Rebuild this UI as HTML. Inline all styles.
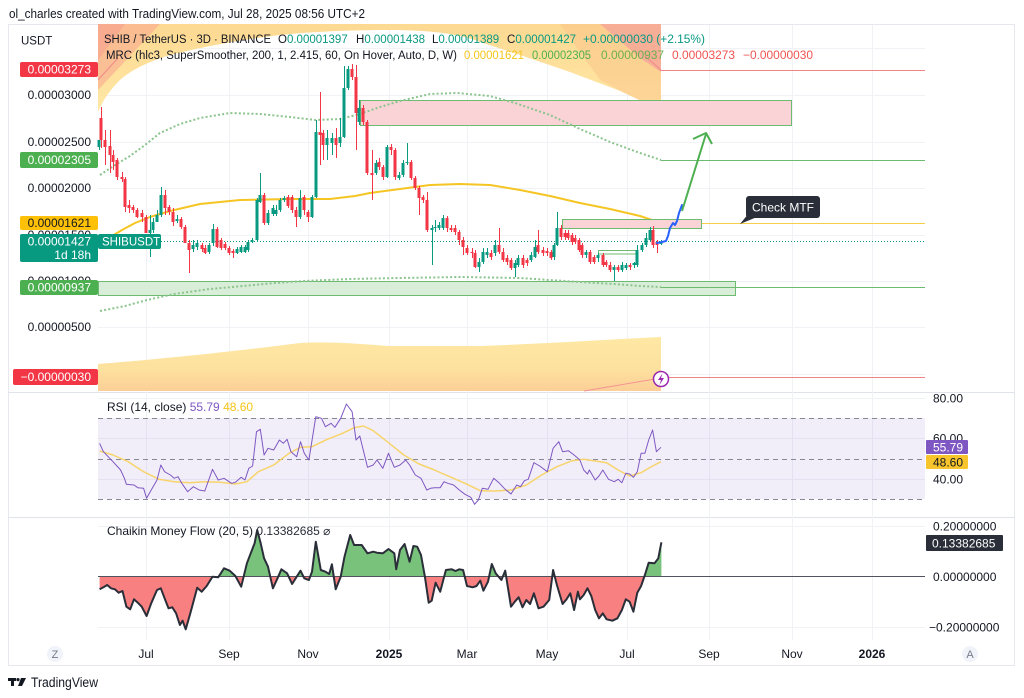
<!DOCTYPE html>
<html><head><meta charset="utf-8"><style>html,body{margin:0;padding:0;background:#fff}svg{display:block}</style></head>
<body>
<svg width="1024" height="698" viewBox="0 0 1024 698" xmlns="http://www.w3.org/2000/svg" font-family="'Liberation Sans', Arial, sans-serif">
<defs>
<linearGradient id="topg" x1="0" y1="24" x2="0" y2="112" gradientUnits="userSpaceOnUse"><stop offset="0" stop-color="#fdd992"/><stop offset="1" stop-color="#fee8a6"/></linearGradient>
<linearGradient id="botg" x1="0" y1="337" x2="0" y2="391" gradientUnits="userSpaceOnUse"><stop offset="0" stop-color="#fee8a4"/><stop offset="0.6" stop-color="#fde19e"/><stop offset="1" stop-color="#fccf98"/></linearGradient>
<clipPath id="band"><path d="M98 24 L98 112 C103 100 110 90 120 80 C130 71 145 63 167 56 C200 47 240 40 280 35 C320 31 360 30 390 30 C410 30 430 31 450 34 C465 37 470 38 480 42 L520 55 L570 72 L620 91 L661 110 L661 24 Z"/></clipPath>
<clipPath id="above"><rect x="90" y="500" width="600" height="76"/></clipPath>
<clipPath id="below"><rect x="90" y="576" width="600" height="80"/></clipPath>
</defs>

<!-- header -->
<text x="9" y="18" font-size="12.5" fill="#131722" textLength="356" lengthAdjust="spacingAndGlyphs">ol_charles created with TradingView.com, Jul 28, 2025 08:56 UTC+2</text>

<!-- frame -->
<rect x="8.5" y="24.5" width="1006" height="641" fill="none" stroke="#e6e8ee"/>
<line x1="8" y1="392.5" x2="1015" y2="392.5" stroke="#e0e3eb"/>
<line x1="8" y1="517.5" x2="1015" y2="517.5" stroke="#e0e3eb"/>

<!-- grid -->
<g stroke="#f0f2f5" stroke-width="1">
<line x1="146.5" y1="25" x2="146.5" y2="640"/><line x1="229.5" y1="25" x2="229.5" y2="640"/><line x1="308.5" y1="25" x2="308.5" y2="640"/><line x1="389.5" y1="25" x2="389.5" y2="640"/><line x1="467.5" y1="25" x2="467.5" y2="640"/><line x1="547.5" y1="25" x2="547.5" y2="640"/><line x1="627.5" y1="25" x2="627.5" y2="640"/><line x1="709.5" y1="25" x2="709.5" y2="640"/><line x1="792.5" y1="25" x2="792.5" y2="640"/><line x1="872.5" y1="25" x2="872.5" y2="640"/>
<line x1="98" y1="48.5" x2="925" y2="48.5"/><line x1="98" y1="95.5" x2="925" y2="95.5"/><line x1="98" y1="142.5" x2="925" y2="142.5"/><line x1="98" y1="188.5" x2="925" y2="188.5"/><line x1="98" y1="235.5" x2="925" y2="235.5"/><line x1="98" y1="281.5" x2="925" y2="281.5"/><line x1="98" y1="327.5" x2="925" y2="327.5"/><line x1="98" y1="374.5" x2="925" y2="374.5"/>
<line x1="98" y1="398.5" x2="925" y2="398.5"/><line x1="98" y1="438.5" x2="925" y2="438.5"/><line x1="98" y1="479.5" x2="925" y2="479.5"/>
<line x1="98" y1="526.5" x2="925" y2="526.5"/><line x1="98" y1="627.5" x2="925" y2="627.5"/>
</g>

<!-- top MRC band -->
<g clip-path="url(#band)">
<rect x="98" y="24" width="563" height="90" fill="url(#topg)"/>
<polygon points="98,24 160,24 98,90" fill="#f7a48e" opacity="0.55"/>
<polygon points="98,24 125,24 98,60" fill="#f59a8e" opacity="0.5"/>
<polygon points="560,24 661,24 661,112 600,80" fill="#fbc48a" opacity="0.5"/>
<polygon points="600,24 661,24 661,72 640,58" fill="#f5a09a" opacity="0.7"/>
</g>
<line x1="98" y1="80" x2="118" y2="58" stroke="#f08a8a" stroke-width="1"/>
<line x1="645" y1="56" x2="661" y2="70" stroke="#f08a8a" stroke-width="1"/>

<!-- bottom MRC band -->
<path d="M98 364 C150 360 230 352 300 343 C330 341 360 344 390 346 L480 346 C540 344 600 340 661 337 L661 391 L98 391 Z" fill="url(#botg)"/>
<line x1="584" y1="391" x2="661" y2="378" stroke="#f29494" stroke-width="1"/>

<!-- zones -->
<rect x="360.5" y="100.5" width="431" height="25" fill="#f9d3d6" stroke="#6dbb70" stroke-width="1"/>
<rect x="98.5" y="281.5" width="637" height="14" fill="#d9eed9" stroke="#6dbb70" stroke-width="1"/>

<!-- right extension lines -->
<line x1="661" y1="70.5" x2="925" y2="70.5" stroke="#f08585" stroke-width="1"/>
<line x1="661" y1="160.5" x2="925" y2="160.5" stroke="#6dbb70" stroke-width="1"/>
<line x1="661" y1="223.5" x2="925" y2="223.5" stroke="#f5cf4a" stroke-width="1"/>
<line x1="661" y1="287.5" x2="925" y2="287.5" stroke="#6dbb70" stroke-width="1"/>
<line x1="661" y1="377.5" x2="925" y2="377.5" stroke="#f08585" stroke-width="1"/>

<!-- dotted MRC bands -->
<polyline fill="none" stroke="#8bc48d" stroke-width="2" stroke-dasharray="2 2.2" points="100,175 115,165 130,156 145,145 160,133 180,124 200,118 230,113 260,114 290,117 315,120 340,119 360,114 380,107 400,101 430,94 457,93 490,96 515,103 550,115 580,129 610,142 640,153 661,160"/>
<polyline fill="none" stroke="#8bc48d" stroke-width="2" stroke-dasharray="2 2.2" points="100,311 125,306 147,300 174,294 210,289 243,286 275,283 304,281 350,279 400,278 460,277 520,278 549,280 580,282 614,284 640,286 661,287"/>

<!-- mean line -->
<polyline fill="none" stroke="#f5c524" stroke-width="2" stroke-linejoin="round" points="112,236 122,230 135,223 150,217 170,211 200,204 240,200 290,199 330,199 355,196 370,193 400,189 430,185 460,184 490,185 520,190 550,196 580,203 610,209 640,216 661,223"/>

<!-- small zone -->
<rect x="562.5" y="219.5" width="139" height="9" fill="#f9d3d6" stroke="#6dbb70" stroke-width="1"/>
<rect x="598.5" y="250.5" width="39" height="3.5" fill="none" stroke="#6dbb70" stroke-width="1"/>

<!-- price line -->
<line x1="98" y1="241.5" x2="925" y2="241.5" stroke="#089981" stroke-width="1" stroke-dasharray="1 2"/>

<!-- candles -->
<g transform="translate(0.5,0)">
<path fill="none" stroke="#f23645" stroke-width="1" d="M101 107V148 M105 130V165 M110 130V173 M113 150V170 M117 158V180 M122 172V182 M125 177V212 M129 200V213 M133 205V213 M137 208V218 M142 210V222 M146 215V233 M165 190V215 M169 205V215 M173 208V226 M181 217V229 M185 225V243 M189 240V273 M202 243V252 M205 245V254 M217 227V248 M221 238V250 M225 242V250 M229 246V255 M233 249V258 M264 193V225 M288 195V208 M292 195V213 M296 207V227 M304 195V215 M308 210V222 M320 92V165 M323 130V160 M336 128V158 M352 64V80 M356 65V150 M363 105V125 M367 120V175 M372 150V200 M379 158V170 M383 165V180 M391 144V155 M395 148V180 M411 160V180 M415 176V190 M419 186V215 M423 195V203 M427 192V232 M447 216V232 M451 225V232 M455 225V235 M459 230V245 M463 237V255 M467 245V255 M472 248V258 M475 250V268 M491 250V260 M499 228V254 M503 248V262 M507 255V265 M511 258V270 M523 255V268 M527 258V266 M538 230V254 M543 247V256 M547 248V256 M551 250V260 M561 225V240 M565 230V240 M568 230V240 M572 233V245 M575 235V244 M579 238V252 M582 243V258 M590 250V264 M594 255V264 M603 253V267 M606 260V267 M610 262V272 M618 265V272 M630 263V270 M653 226V248 M657 240V253"/>
<path fill="none" stroke="#089981" stroke-width="1" d="M99 140V150 M150 215V257 M153 218V233 M157 210V222 M161 187V217 M177 215V223 M193 240V252 M197 240V250 M209 243V254 M213 224V246 M237 247V254 M241 245V253 M245 245V253 M248 240V252 M252 238V243 M257 198V241 M260 173V203 M268 210V225 M273 205V216 M276 205V216 M280 198V212 M284 196V202 M300 190V219 M312 195V218 M316 120V198 M327 130V160 M332 133V155 M340 118V147 M344 66V138 M348 66V90 M359 100V125 M376 160V175 M387 145V178 M399 172V180 M403 160V177 M407 143V165 M432 225V265 M435 220V232 M439 222V230 M443 215V230 M479 258V272 M483 248V264 M487 248V258 M495 240V256 M515 260V277 M518 255V267 M531 252V262 M535 240V258 M554 243V260 M557 212V246 M586 250V258 M598 253V262 M614 265V281 M622 262V272 M626 263V270 M634 262V268 M637 245V267 M642 243V252 M646 233V247 M650 227V242 M661 240V245"/>
</g>
<path fill="#f23645" d="M99.5 118h3v22h-3z M103.5 140h3v7h-3z M108.5 146h3v9h-3z M111.5 155h3v7h-3z M115.5 160h3v17h-3z M120.5 177h3v2h-3z M123.5 179h3v28h-3z M127.5 205h3v3h-3z M131.5 207h3v3h-3z M135.5 210h3v7h-3z M140.5 213h3v4h-3z M144.5 217h3v16h-3z M163.5 195h3v13h-3z M167.5 207h3v5h-3z M171.5 212h3v10h-3z M179.5 219h3v8h-3z M183.5 227h3v16h-3z M187.5 243h3v7h-3z M200.5 245h3v4h-3z M203.5 248h3v5h-3z M215.5 229h3v18h-3z M219.5 240h3v8h-3z M223.5 244h3v4h-3z M227.5 248h3v5h-3z M231.5 251h3v2h-3z M262.5 195h3v28h-3z M286.5 197h3v9h-3z M290.5 197h3v13h-3z M294.5 210h3v7h-3z M302.5 197h3v13h-3z M306.5 212h3v5h-3z M318.5 132h3v3h-3z M321.5 133h3v12h-3z M334.5 138h3v7h-3z M350.5 69h3v8h-3z M354.5 77h3v36h-3z M361.5 108h3v14h-3z M365.5 122h3v51h-3z M370.5 173h3v2h-3z M377.5 162h3v5h-3z M381.5 167h3v10h-3z M389.5 147h3v3h-3z M393.5 150h3v27h-3z M409.5 162h3v16h-3z M413.5 178h3v10h-3z M417.5 188h3v10h-3z M421.5 197h3v3h-3z M425.5 200h3v30h-3z M445.5 218h3v10h-3z M449.5 228h3v2h-3z M453.5 228h3v4h-3z M457.5 232h3v8h-3z M461.5 240h3v7h-3z M465.5 248h3v5h-3z M470.5 252h3v1h-3z M473.5 253h3v14h-3z M489.5 253h3v4h-3z M497.5 245h3v7h-3z M501.5 252h3v8h-3z M505.5 258h3v4h-3z M509.5 260h3v8h-3z M521.5 258h3v7h-3z M525.5 260h3v3h-3z M536.5 245h3v7h-3z M541.5 250h3v3h-3z M545.5 251h3v2h-3z M549.5 252h3v6h-3z M559.5 228h3v9h-3z M563.5 233h3v4h-3z M566.5 233h3v5h-3z M570.5 235h3v7h-3z M573.5 238h3v4h-3z M577.5 240h3v10h-3z M580.5 245h3v10h-3z M588.5 252h3v10h-3z M592.5 257h3v5h-3z M601.5 255h3v10h-3z M604.5 262h3v3h-3z M608.5 265h3v5h-3z M616.5 267h3v3h-3z M628.5 265h3v2h-3z M651.5 230h3v15h-3z M655.5 242h3v3h-3z"/>
<path fill="#089981" d="M97.5 140h3v7h-3z M148.5 230h3v3h-3z M151.5 222h3v8h-3z M155.5 215h3v7h-3z M159.5 195h3v20h-3z M175.5 219h3v2h-3z M191.5 245h3v4h-3z M195.5 243h3v4h-3z M207.5 245h3v7h-3z M211.5 229h3v14h-3z M235.5 249h3v4h-3z M239.5 247h3v5h-3z M243.5 247h3v5h-3z M246.5 242h3v8h-3z M250.5 240h3v2h-3z M255.5 200h3v40h-3z M258.5 195h3v7h-3z M266.5 213h3v10h-3z M271.5 208h3v6h-3z M274.5 210h3v4h-3z M278.5 200h3v10h-3z M282.5 198h3v2h-3z M298.5 198h3v19h-3z M310.5 197h3v20h-3z M314.5 132h3v65h-3z M325.5 138h3v7h-3z M330.5 138h3v5h-3z M338.5 137h3v6h-3z M342.5 88h3v49h-3z M346.5 69h3v19h-3z M357.5 108h3v14h-3z M374.5 163h3v10h-3z M385.5 147h3v30h-3z M397.5 175h3v3h-3z M401.5 163h3v12h-3z M405.5 162h3v1h-3z M430.5 228h3v2h-3z M433.5 227h3v1h-3z M437.5 225h3v3h-3z M441.5 218h3v10h-3z M477.5 262h3v5h-3z M481.5 252h3v10h-3z M485.5 252h3v3h-3z M493.5 245h3v8h-3z M513.5 263h3v5h-3z M516.5 258h3v7h-3z M529.5 255h3v5h-3z M533.5 247h3v10h-3z M552.5 245h3v12h-3z M555.5 228h3v17h-3z M584.5 252h3v3h-3z M596.5 255h3v3h-3z M612.5 267h3v3h-3z M620.5 265h3v5h-3z M624.5 265h3v3h-3z M632.5 263h3v2h-3z M635.5 250h3v15h-3z M640.5 245h3v5h-3z M644.5 238h3v7h-3z M648.5 230h3v10h-3z M659.5 242h3v2h-3z"/>

<!-- projection -->
<polyline fill="none" stroke="#2962ff" stroke-width="2" stroke-linejoin="round" stroke-linecap="round" points="657,243 662,242 666,241 668,236 670,228 673,223 675,225 677,221 679,213 682,205"/>
<line x1="682" y1="211" x2="706" y2="134" stroke="#4caf50" stroke-width="2"/>
<polyline fill="none" stroke="#4caf50" stroke-width="2" stroke-linejoin="round" points="693,139 706,133 712,144"/>

<!-- Check MTF -->
<polygon points="749,213 740,224 757,217" fill="#2a2e39"/>
<rect x="746" y="196" width="74" height="22" rx="3" fill="#2a2e39"/>
<text x="783" y="211.5" font-size="12" fill="#ffffff" text-anchor="middle">Check MTF</text>

<!-- lightning icon -->
<circle cx="661" cy="379" r="7.5" fill="#ffffff" stroke="#9c27b0" stroke-width="1.5"/>
<path d="M662.5 373.5 L658 380 L661 380 L659.5 385 L664 378 L661 378 Z" fill="#9c27b0"/>

<!-- legend -->
<g font-size="11.5">
<text x="104" y="43" fill="#131722" textLength="167" lengthAdjust="spacingAndGlyphs">SHIB / TetherUS · 3D · BINANCE</text>
<text x="278" y="43" fill="#131722">O<tspan fill="#089981">0.00001397</tspan></text>
<text x="356" y="43" fill="#131722">H<tspan fill="#089981">0.00001438</tspan></text>
<text x="432" y="43" fill="#131722">L<tspan fill="#089981">0.00001389</tspan></text>
<text x="507" y="43" fill="#131722">C<tspan fill="#089981">0.00001427</tspan></text>
<text x="583" y="43" fill="#089981" textLength="122" lengthAdjust="spacingAndGlyphs">+0.00000030 (+2.15%)</text>
<text x="106" y="59" fill="#131722" textLength="351" lengthAdjust="spacingAndGlyphs">MRC (hlc3, SuperSmoother, 200, 1, 2.415, 60, On Hover, Auto, D, W)</text>
<text x="464" y="59" fill="#f5c518" textLength="60" lengthAdjust="spacingAndGlyphs">0.00001621</text>
<text x="532" y="59" fill="#4caf50" textLength="59" lengthAdjust="spacingAndGlyphs">0.00002305</text>
<text x="601" y="59" fill="#6ab04c" textLength="63" lengthAdjust="spacingAndGlyphs">0.00000937</text>
<text x="672" y="59" fill="#ef5350" textLength="63" lengthAdjust="spacingAndGlyphs">0.00003273</text>
<text x="743" y="59" fill="#ef5350" textLength="70" lengthAdjust="spacingAndGlyphs">−0.00000030</text>
</g>

<!-- left axis -->
<text x="21" y="44.5" font-size="11.5" fill="#131722">USDT</text>
<g font-size="12" fill="#131722" text-anchor="end">
<text x="91" y="99">0.00003000</text>
<text x="91" y="146">0.00002500</text>
<text x="91" y="192">0.00002000</text>
<text x="91" y="239">0.00001500</text>
<text x="91" y="285">0.00001000</text>
<text x="91" y="331">0.00000500</text>
</g>
<!-- badges -->
<rect x="20" y="62" width="78" height="15" rx="2" fill="#f23645"/>
<text x="91" y="73.5" font-size="12" fill="#fff" text-anchor="end">0.00003273</text>
<rect x="20" y="152" width="78" height="16" rx="2" fill="#4caf50"/>
<text x="91" y="164" font-size="12" fill="#fff" text-anchor="end">0.00002305</text>
<rect x="20" y="216" width="78" height="14" rx="2" fill="#ffc107"/>
<text x="91" y="227" font-size="12" fill="#131722" text-anchor="end">0.00001621</text>
<rect x="20" y="234" width="78" height="28" rx="2" fill="#089981"/>
<text x="91" y="245.5" font-size="12" fill="#fff" text-anchor="end">0.00001427</text>
<text x="91" y="259" font-size="12" fill="#fff" text-anchor="end">1d 18h</text>
<rect x="98" y="234" width="63" height="15" rx="2" fill="#089981"/>
<text x="102" y="245.5" font-size="11.5" fill="#fff">SHIBUSDT</text>
<rect x="20" y="280" width="78" height="15" rx="2" fill="#4caf50"/>
<text x="91" y="291.5" font-size="12" fill="#fff" text-anchor="end">0.00000937</text>
<rect x="13" y="369" width="85" height="16" rx="2" fill="#f23645"/>
<text x="91" y="381" font-size="12" fill="#fff" text-anchor="end">−0.00000030</text>

<!-- RSI pane -->
<rect x="98" y="418" width="827" height="81" fill="#7e57c2" fill-opacity="0.1"/>
<g stroke="#868993" stroke-width="1" stroke-dasharray="5 4">
<line x1="98" y1="418.5" x2="925" y2="418.5"/><line x1="98" y1="459.5" x2="925" y2="459.5"/><line x1="98" y1="499.5" x2="925" y2="499.5"/>
</g>
<polyline fill="none" stroke="#f7d46b" stroke-width="1.5" stroke-linejoin="round" points="99.6,451 113,455 128.3,461.7 143.6,471.7 158.9,479.3 174.2,481.7 189.5,482.7 204.8,481.7 220.1,482.3 235.4,484 246.9,481.7 258.4,471.7 273.7,465 289,453.3 300.5,447.3 312,446.7 327.3,439.3 342.6,433.3 354.1,427.7 363.6,426 373.2,430.7 388.5,442.7 403.8,455 419.1,464 434.4,470 449.7,476.7 465,483.3 480.3,490.7 495.7,491 511,490 526.3,485 541.6,475 556.9,466.7 572.2,460.7 583.7,459.3 595.2,461 606.6,462.7 618.1,470 629.6,476 641.1,472.7 652.6,466 661,461.7"/>
<polyline fill="none" stroke="#7e57c2" stroke-width="1" stroke-linejoin="round" points="99.6,443.3 103.4,451.7 113,461.7 120.6,470 124.4,478.3 126.4,484.3 134,485 137.8,487.7 143.6,488.3 146.6,498.3 151.2,490 157,480 160.8,465 164.6,471.7 170.4,475 174.2,478.3 178,476.7 181.8,483.3 187.6,491.7 193.3,486.7 199.1,490 204.8,491 212.5,469.3 218.2,480 224,478.3 231.6,483.3 235.4,482.3 241.2,477.3 245,480 248.8,468.3 252.6,466 256.5,431.7 260.3,429.3 264.1,455 268,448.3 273.7,450 279.4,440 283.3,443.3 287.1,439.3 290.9,451.7 296.7,456.7 300.5,441.7 304.3,453.3 308.9,460 315.8,416.7 321.5,418.3 325.4,426.7 331.1,423.3 334.9,427.3 340.7,418.3 346.4,404 352.1,411.7 356,440 359.8,436 367.5,467.3 373.2,465 377,460 382.8,468.3 388.5,453.3 394.3,467.3 400,465 405.7,460 409.6,465 415.3,475 421,478.3 426.8,490 430.6,488.3 434.4,487.7 440.2,487.7 444,481.7 447.8,483.3 453.6,485 459.3,490 465,494.3 470.8,497.3 474.6,504.3 478.4,500 482.3,488.3 488,489.3 493.7,478.3 499.5,483.3 505.2,489.3 511,494 516.7,485 520.5,486.7 524.4,480.7 528.2,479.3 533.9,462.7 539.7,466 547.3,471.7 553.1,448.3 558.8,441.7 562.6,451.7 568.4,450.7 574.1,455 579.9,460 583.7,470 587.5,474 589.4,470 595.2,480 599,476 602.8,470 608.5,479.3 614.3,481.7 618.1,479.3 621.9,482.7 625.8,473.3 629.6,474 633.4,477.3 637.3,471.7 641.1,453.3 644.9,453.3 648.7,440 652.6,430 656.4,451.7 661,447.3"/>
<text x="107" y="411" font-size="12" fill="#131722">RSI (14, close) <tspan fill="#7e57c2">55.79</tspan> <tspan fill="#f5c518">48.60</tspan></text>
<g font-size="12" fill="#131722">
<text x="933" y="402.5">80.00</text>
<text x="933" y="442.5">60.00</text>
<text x="933" y="483.5">40.00</text>
</g>
<rect x="926" y="440" width="42" height="14" rx="1" fill="#7e57c2"/>
<text x="933" y="451.5" font-size="12" fill="#fff">55.79</text>
<rect x="926" y="455" width="42" height="14" rx="1" fill="#f7c52b"/>
<text x="933" y="466.5" font-size="12" fill="#131722">48.60</text>

<!-- CMF pane -->
<g>
<polygon clip-path="url(#above)" fill="#78c27b" points="99.6,589.3 103.4,587.3 107.2,585 111,588.3 114.9,589.3 118.7,592.7 122.5,591 126.4,606.7 130.2,609.3 134,599.3 137.8,602.7 141.7,606.7 146.6,616 151.2,603.3 157,590 160.8,588.3 164.6,598.3 168.5,608.3 172.3,607.3 176.1,613.3 179.9,625 182.6,620.7 185.7,629.3 190.3,613.3 197.2,587.7 201.7,591.7 206.7,586 212.5,576.7 218.2,577.3 224,568.3 229.7,570.7 235.4,576 241.2,586.7 246.9,563.3 250.7,553.3 254.6,543.3 257.2,530 260.3,541.7 264.1,558.3 268,566.7 272.9,588.3 277.5,578.3 281.4,569.3 287.1,573.3 292.1,584 296.7,576.7 300.5,570.7 304.3,578.3 308.9,580 312,571.7 315.8,541.7 320.8,570 325.4,571.7 329.2,574 331.9,564.3 335.7,589.3 340.7,576.7 344.5,556.7 350.2,535 354.1,545 361.7,545 367.5,553.3 373.2,551.7 377,552.7 382.8,553.3 388.5,549 394.3,553.3 396.2,569.3 400,550 404.6,544 409.6,561.7 413.4,546 417.2,546.7 421,555 424.9,576.7 428.7,602.7 431.7,600.7 435.6,582.7 440.2,591.7 445.9,570 451.7,569.3 455.5,571 459.3,569.3 463.1,570 467,586 472.7,587.3 476.5,586 480.3,580.7 483.4,590.7 488,581.7 491.8,564 495.7,573.3 501.4,580 505.2,570.7 511,606.7 514.8,601.7 518.6,597.3 522.5,607.3 526.3,600 530.1,604 533.9,593.3 538.5,608.3 543.5,606.7 549.2,600 553.1,570 556.9,585 562.6,604 566.5,599.3 570.3,593.3 574.1,610 577.9,591.7 579.9,599.3 583.7,595 587.5,588.3 591.3,596 595.2,610 599,618.3 602.8,613.3 606.6,619.3 612.4,620.7 617.4,618.3 621.9,610 625.8,599.3 629.6,601.7 633.4,611.7 637.3,592.7 641.1,586 644.9,575 648.7,562.7 654.5,563.3 658.3,558.3 661.4,542.3 661.4,576 99.6,576"/>
<polygon clip-path="url(#below)" fill="#f88080" points="99.6,589.3 103.4,587.3 107.2,585 111,588.3 114.9,589.3 118.7,592.7 122.5,591 126.4,606.7 130.2,609.3 134,599.3 137.8,602.7 141.7,606.7 146.6,616 151.2,603.3 157,590 160.8,588.3 164.6,598.3 168.5,608.3 172.3,607.3 176.1,613.3 179.9,625 182.6,620.7 185.7,629.3 190.3,613.3 197.2,587.7 201.7,591.7 206.7,586 212.5,576.7 218.2,577.3 224,568.3 229.7,570.7 235.4,576 241.2,586.7 246.9,563.3 250.7,553.3 254.6,543.3 257.2,530 260.3,541.7 264.1,558.3 268,566.7 272.9,588.3 277.5,578.3 281.4,569.3 287.1,573.3 292.1,584 296.7,576.7 300.5,570.7 304.3,578.3 308.9,580 312,571.7 315.8,541.7 320.8,570 325.4,571.7 329.2,574 331.9,564.3 335.7,589.3 340.7,576.7 344.5,556.7 350.2,535 354.1,545 361.7,545 367.5,553.3 373.2,551.7 377,552.7 382.8,553.3 388.5,549 394.3,553.3 396.2,569.3 400,550 404.6,544 409.6,561.7 413.4,546 417.2,546.7 421,555 424.9,576.7 428.7,602.7 431.7,600.7 435.6,582.7 440.2,591.7 445.9,570 451.7,569.3 455.5,571 459.3,569.3 463.1,570 467,586 472.7,587.3 476.5,586 480.3,580.7 483.4,590.7 488,581.7 491.8,564 495.7,573.3 501.4,580 505.2,570.7 511,606.7 514.8,601.7 518.6,597.3 522.5,607.3 526.3,600 530.1,604 533.9,593.3 538.5,608.3 543.5,606.7 549.2,600 553.1,570 556.9,585 562.6,604 566.5,599.3 570.3,593.3 574.1,610 577.9,591.7 579.9,599.3 583.7,595 587.5,588.3 591.3,596 595.2,610 599,618.3 602.8,613.3 606.6,619.3 612.4,620.7 617.4,618.3 621.9,610 625.8,599.3 629.6,601.7 633.4,611.7 637.3,592.7 641.1,586 644.9,575 648.7,562.7 654.5,563.3 658.3,558.3 661.4,542.3 661.4,576 99.6,576"/>
</g>
<line x1="98" y1="576.5" x2="925" y2="576.5" stroke="#50535e" stroke-width="1"/>
<polyline fill="none" stroke="#2a2e39" stroke-width="2" stroke-linejoin="round" points="99.6,589.3 103.4,587.3 107.2,585 111,588.3 114.9,589.3 118.7,592.7 122.5,591 126.4,606.7 130.2,609.3 134,599.3 137.8,602.7 141.7,606.7 146.6,616 151.2,603.3 157,590 160.8,588.3 164.6,598.3 168.5,608.3 172.3,607.3 176.1,613.3 179.9,625 182.6,620.7 185.7,629.3 190.3,613.3 197.2,587.7 201.7,591.7 206.7,586 212.5,576.7 218.2,577.3 224,568.3 229.7,570.7 235.4,576 241.2,586.7 246.9,563.3 250.7,553.3 254.6,543.3 257.2,530 260.3,541.7 264.1,558.3 268,566.7 272.9,588.3 277.5,578.3 281.4,569.3 287.1,573.3 292.1,584 296.7,576.7 300.5,570.7 304.3,578.3 308.9,580 312,571.7 315.8,541.7 320.8,570 325.4,571.7 329.2,574 331.9,564.3 335.7,589.3 340.7,576.7 344.5,556.7 350.2,535 354.1,545 361.7,545 367.5,553.3 373.2,551.7 377,552.7 382.8,553.3 388.5,549 394.3,553.3 396.2,569.3 400,550 404.6,544 409.6,561.7 413.4,546 417.2,546.7 421,555 424.9,576.7 428.7,602.7 431.7,600.7 435.6,582.7 440.2,591.7 445.9,570 451.7,569.3 455.5,571 459.3,569.3 463.1,570 467,586 472.7,587.3 476.5,586 480.3,580.7 483.4,590.7 488,581.7 491.8,564 495.7,573.3 501.4,580 505.2,570.7 511,606.7 514.8,601.7 518.6,597.3 522.5,607.3 526.3,600 530.1,604 533.9,593.3 538.5,608.3 543.5,606.7 549.2,600 553.1,570 556.9,585 562.6,604 566.5,599.3 570.3,593.3 574.1,610 577.9,591.7 579.9,599.3 583.7,595 587.5,588.3 591.3,596 595.2,610 599,618.3 602.8,613.3 606.6,619.3 612.4,620.7 617.4,618.3 621.9,610 625.8,599.3 629.6,601.7 633.4,611.7 637.3,592.7 641.1,586 644.9,575 648.7,562.7 654.5,563.3 658.3,558.3 661.4,542.3"/>
<text x="107" y="535" font-size="12" fill="#131722">Chaikin Money Flow (20, 5) <tspan fill="#2a2e39">0.13382685</tspan>  <tspan fill="#2a2e39">⌀</tspan></text>
<g font-size="12" fill="#131722">
<text x="933" y="530.5">0.20000000</text>
<text x="933" y="581">0.00000000</text>
<text x="929" y="631.5">−0.20000000</text>
</g>
<rect x="926" y="535" width="77" height="16" rx="1" fill="#2a2e39"/>
<text x="932" y="547.5" font-size="12" fill="#fff">0.13382685</text>

<!-- time axis -->
<circle cx="55" cy="654" r="8" fill="#f0f3fa"/>
<text x="55" y="658" font-size="11" fill="#787b86" text-anchor="middle">Z</text>
<circle cx="970" cy="654" r="8" fill="#f0f3fa"/>
<text x="970" y="658" font-size="11" fill="#787b86" text-anchor="middle">A</text>
<g font-size="12" fill="#131722" text-anchor="middle">
<text x="146" y="658">Jul</text>
<text x="229" y="658">Sep</text>
<text x="308" y="658">Nov</text>
<text x="389" y="658" font-weight="bold">2025</text>
<text x="467" y="658">Mar</text>
<text x="547" y="658">May</text>
<text x="627" y="658">Jul</text>
<text x="709" y="658">Sep</text>
<text x="792" y="658">Nov</text>
<text x="872" y="658" font-weight="bold">2026</text>
</g>

<!-- TradingView logo -->
<g fill="#131722">
<rect x="8" y="678" width="8" height="3"/>
<rect x="11" y="678" width="3" height="8"/>
<circle cx="18" cy="679.6" r="1.6"/>
<polygon points="21,678 26,678 22,686 18,686"/>
</g>
<text x="31" y="687" font-size="13.5" fill="#131722" textLength="67" lengthAdjust="spacingAndGlyphs">TradingView</text>
</svg>
</body></html>
